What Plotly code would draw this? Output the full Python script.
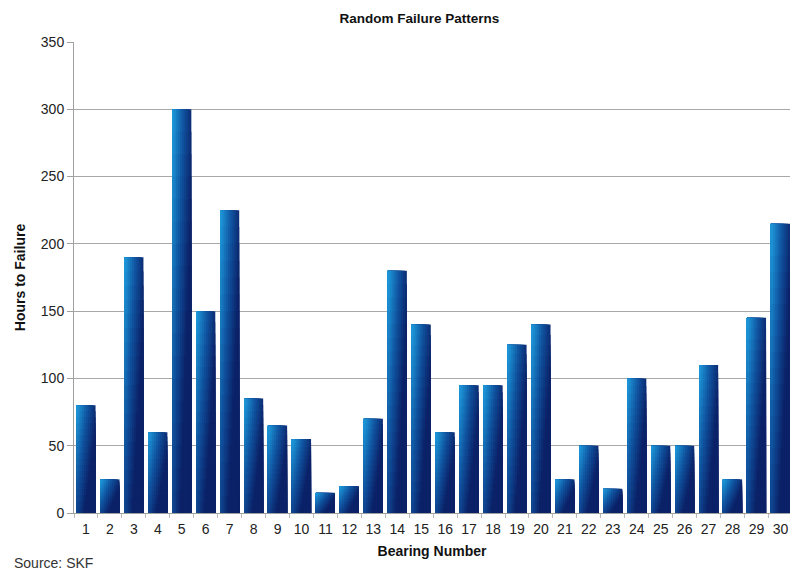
import plotly.graph_objects as go

# Hours to failure for each of 30 bearings
bearings = [str(i) for i in range(1, 31)]
hours = [80, 25, 190, 60, 300, 150, 225, 85, 65, 55,
         15, 20, 70, 180, 140, 60, 95, 95, 125, 140,
         25, 50, 18, 100, 50, 50, 110, 25, 145, 215]
y_ticks = [0, 50, 100, 150, 200, 250, 300, 350]

# Shaded bar fill: light blue at the top-left corner, fading to navy
LIGHT = (28, 148, 214)
MID = (16, 82, 158)
DARK = (11, 34, 104)


def shade(t):
    t = max(0.0, min(1.0, t))
    if t < 0.5:
        a, b, s = LIGHT, MID, t / 0.5
    else:
        a, b, s = MID, DARK, (t - 0.5) / 0.5
    return "rgb(%d,%d,%d)" % tuple(round(a[k] + (b[k] - a[k]) * s) for k in range(3))


BAR_W = 0.8
NX, NY = 10, 18
fig = go.Figure()

# Nested rectangles anchored at the bar's bottom-left; painted from the
# largest to the smallest so every cell keeps its own colour without seams.
cells = [(i, j) for i in range(NX) for j in range(NY)]
cells.sort(key=lambda c: -(c[0] / NX + c[1] / NY))
for i, j in cells:
    u = (i + 0.5) / NX
    v = (j + 0.5) / NY
    t = 0.95 * u + 0.7 * (1 - v) - 0.08
    frac_w = (i + 1) / NX
    frac_h = (j + 1) / NY
    fig.add_trace(go.Bar(
        x=bearings,
        y=[h * frac_h for h in hours],
        width=BAR_W * frac_w,
        offset=-BAR_W / 2,
        marker=dict(color=shade(t), line=dict(width=0)),
        hoverinfo="skip",
        showlegend=False,
    ))

fig.update_layout(
    width=790,
    height=570,
    margin=dict(l=74, r=0, t=42, b=57),
    barmode="overlay",
    plot_bgcolor="white",
    paper_bgcolor="white",
    font=dict(family="Liberation Sans, Arial, sans-serif", size=14, color="#222"),
    title=dict(
        text="<b>Random Failure Patterns</b>",
        x=0.531, xanchor="center", y=0.968, yanchor="middle",
        font=dict(size=13.5, color="#111"),
    ),
    xaxis=dict(
        type="category",
        range=[-0.5, 29.4],
        showgrid=False,
        showline=True, linecolor="#a0a0a0", linewidth=1,
        ticks="outside", tickson="boundaries", ticklen=4, tickcolor="#bbbbbb",
        tickangle=0, ticklabelstandoff=3,
        tickfont=dict(size=14, color="#222"),
        title=dict(text="<b>Bearing Number</b>", font=dict(size=14, color="#111"), standoff=10),
    ),
    yaxis=dict(
        range=[0, 350],
        tickvals=y_ticks,
        showgrid=True, gridcolor="#a8a8a8", gridwidth=1,
        showline=True, linecolor="#a0a0a0", linewidth=1,
        ticks="outside", ticklen=6, tickcolor="#a0a0a0",
        tickfont=dict(size=14, color="#222"),
        zeroline=False,
        title=dict(text="<b>Hours to Failure</b>", font=dict(size=14, color="#111"), standoff=11),
    ),
    annotations=[dict(
        text="Source: SKF", xref="paper", yref="paper",
        x=-74 / 716, y=-57 / 471, xanchor="left", yanchor="bottom",
        xshift=12, yshift=-3, showarrow=False,
        font=dict(size=14, color="#333"),
    )],
)

fig.write_html("out.html")
